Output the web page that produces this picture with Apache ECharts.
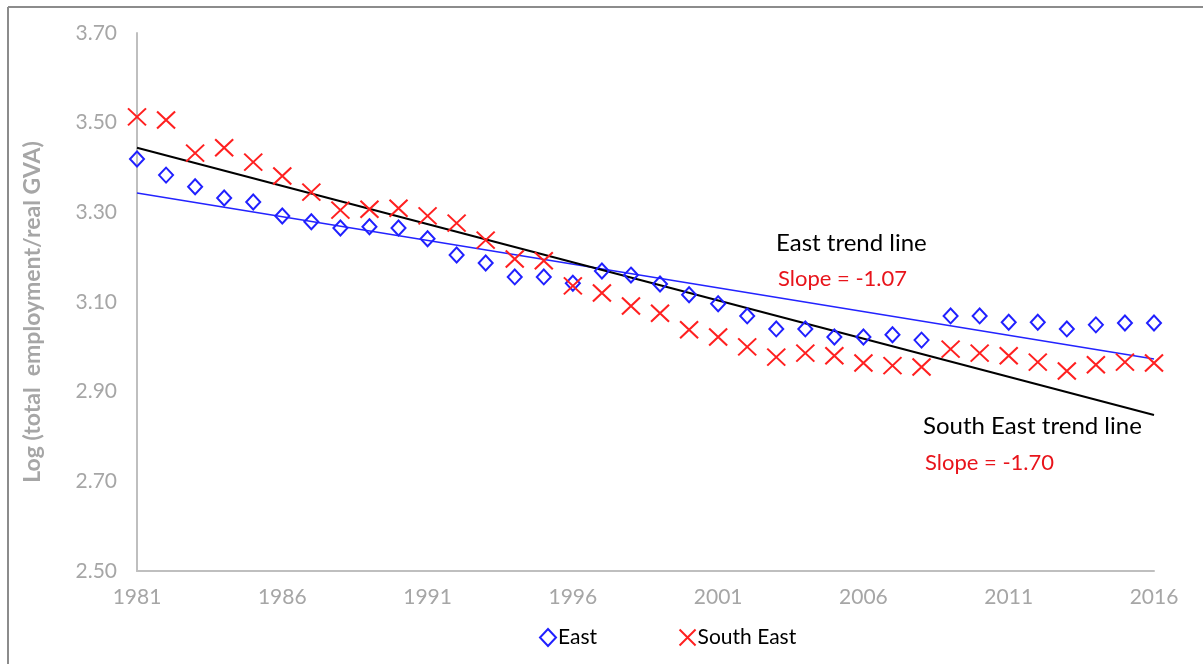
<!DOCTYPE html>
<html>
<head>
<meta charset="utf-8">
<script src="https://cdn.jsdelivr.net/npm/echarts@6/dist/echarts.min.js"></script>
<style>
  html, body { margin: 0; padding: 0; background: #fff; }
  #chart { width: 1203px; height: 664px; }
</style>
</head>
<body>
<div id="chart"></div>
<script>
// years on the x axis
var years = [];
for (var y = 1981; y <= 2016; y++) years.push(String(y));

// East, log(total employment / real GVA)
var eastValues = [3.419, 3.383, 3.357, 3.332, 3.323, 3.292, 3.279, 3.265, 3.268, 3.265,
                  3.241, 3.205, 3.187, 3.156, 3.156, 3.142, 3.169, 3.160, 3.140, 3.116,
                  3.096, 3.069, 3.040, 3.040, 3.022, 3.022, 3.027, 3.015, 3.069, 3.069,
                  3.055, 3.055, 3.040, 3.049, 3.053, 3.053];

// South East
var southEastValues = [3.513, 3.506, 3.432, 3.444, 3.412, 3.381, 3.345, 3.305, 3.307, 3.309,
                       3.292, 3.276, 3.238, 3.196, 3.192, 3.136, 3.120, 3.091, 3.075, 3.038,
                       3.022, 3.000, 2.977, 2.986, 2.980, 2.964, 2.958, 2.955, 2.995, 2.986,
                       2.980, 2.966, 2.946, 2.960, 2.966, 2.964];

// trend lines: start (1981) and end (2016) values
var eastTrend = [3.343, 2.973];
var southEastTrend = [3.444, 2.848];

var yTicks = ['2.50', '2.70', '2.90', '3.10', '3.30', '3.50', '3.70'];

function trendData(ends) {
  var arr = years.map(function () { return null; });
  arr[0] = ends[0];
  arr[arr.length - 1] = ends[1];
  return arr;
}

var fontFam = 'Lato, "Open Sans", sans-serif';
var chart = echarts.init(document.getElementById('chart'));

chart.setOption({
  animation: false,
  backgroundColor: '#fff',
  grid: { left: 137, right: 49, top: 33, bottom: 93 },
  legend: {
    data: ['East', 'South East'],
    left: 534,
    top: 622,
    itemGap: 80,
    itemWidth: 16,
    itemHeight: 17,
    textStyle: { color: '#000', fontSize: 21, fontFamily: fontFam, padding: [0, 0, 0, -3] }
  },
  xAxis: {
    type: 'category',
    data: years,
    boundaryGap: false,
    axisLine: { lineStyle: { color: '#bfbfbf', width: 2 } },
    axisTick: { show: false },
    axisLabel: {
      interval: 4,
      color: '#a6a6a6',
      fontSize: 21,
      fontFamily: fontFam,
      margin: 16
    },
    splitLine: { show: false }
  },
  yAxis: {
    type: 'value',
    min: 2.5,
    max: 3.7,
    interval: 0.2,
    axisLine: { show: true, lineStyle: { color: '#bfbfbf', width: 2 } },
    axisTick: { show: false },
    splitLine: { show: false },
    axisLabel: {
      color: '#a6a6a6',
      fontSize: 21,
      fontFamily: fontFam,
      margin: 20,
      formatter: function (v) {
        var s = v.toFixed(2);
        return yTicks.indexOf(s) >= 0 ? s : '';
      }
    }
  },
  graphic: [
    { type: 'line', shape: { x1: 8, y1: 7, x2: 1203, y2: 7 }, style: { stroke: '#8c8c8c', lineWidth: 2 } },
    { type: 'line', shape: { x1: 8, y1: 7, x2: 8, y2: 664 }, style: { stroke: '#8c8c8c', lineWidth: 2 } },
    {
      type: 'text', x: 33, y: 312, rotation: Math.PI / 2,
      style: {
        text: 'Log (total  employment/real GVA)', fill: '#a6a6a6', fontSize: 23,
        fontWeight: 'bold', fontFamily: fontFam, align: 'center', verticalAlign: 'middle'
      }
    },
    { type: 'text', left: 776, top: 231, style: { text: 'East trend line', fill: '#000', fontSize: 24, fontFamily: fontFam } },
    { type: 'text', left: 778, top: 268, style: { text: 'Slope = -1.07', fill: '#e8141b', fontSize: 22, fontFamily: fontFam } },
    { type: 'text', left: 923, top: 414, style: { text: 'South East trend line', fill: '#000', fontSize: 24, fontFamily: fontFam } },
    { type: 'text', left: 925, top: 452, style: { text: 'Slope = -1.70', fill: '#e8141b', fontSize: 22, fontFamily: fontFam } }
  ],
  series: [
    {
      name: 'East trend',
      type: 'line',
      data: trendData(eastTrend),
      connectNulls: true,
      showSymbol: false,
      symbol: 'none',
      lineStyle: { color: '#2323ff', width: 1.5 },
      z: 1
    },
    {
      name: 'South East trend',
      type: 'line',
      data: trendData(southEastTrend),
      connectNulls: true,
      showSymbol: false,
      symbol: 'none',
      lineStyle: { color: '#000', width: 2 },
      z: 1
    },
    {
      name: 'East',
      type: 'scatter',
      data: eastValues,
      symbol: 'diamond',
      symbolSize: [14, 15],
      itemStyle: { color: 'rgba(255,255,255,0)', borderColor: '#2020ff', borderWidth: 2, opacity: 1 },
      z: 3
    },
    {
      name: 'South East',
      type: 'scatter',
      data: southEastValues,
      symbol: 'path://M0,0L10,10M10,0L0,10',
      symbolSize: [18, 17],
      itemStyle: { color: 'none', borderColor: '#ff2020', borderWidth: 2, opacity: 1 },
      z: 3
    }
  ]
});
</script>
</body>
</html>
